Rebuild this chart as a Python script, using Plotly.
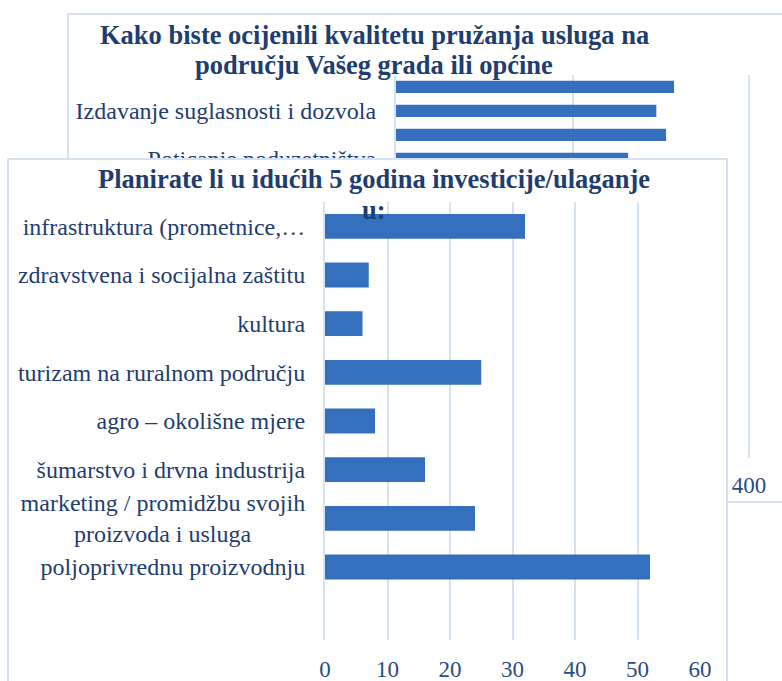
import plotly.graph_objects as go

W, H = 782, 681

# pozadinski grafikon (djelomično skriven)
bg_title = ["Kako biste ocijenili kvalitetu pružanja usluga na",
            "području Vašeg grada ili općine"]
bg_categories = ["(bez oznake 1)", "Izdavanje suglasnosti i dozvola",
                 "(bez oznake 2)", "Poticanje poduzetništva"]
bg_labeled = ["Izdavanje suglasnosti i dozvola", "Poticanje poduzetništva"]
bg_values = [315, 295, 306, 263]
bg_ticks = [0, 200, 400]

# prednji grafikon
fg_title = ["Planirate li u idućih 5 godina investicije/ulaganje", "u:"]
fg_categories = [
    "infrastruktura (prometnice,…",
    "zdravstvena i socijalna zaštitu",
    "kultura",
    "turizam na ruralnom području",
    "agro – okolišne mjere",
    "šumarstvo i drvna industrija",
    "marketing / promidžbu svojih<br>proizvoda i usluga",
    "poljoprivrednu proizvodnju",
]
fg_values = [32, 7, 6, 25, 8, 16, 24, 52]
fg_ticks = [0, 10, 20, 30, 40, 50, 60]


def fx(p):
    return p / W


def fy(p):
    return 1 - p / H


BAR = "#3570BE"
GRID = "#D6E1F2"
TXT = "#1F3D6E"
FONT = "Liberation Serif"

# second line of the two-line label is centred in the reference
fg_ticktext = list(fg_categories)
fg_ticktext[6] = fg_categories[6] + "\u00a0" * 9

fig = go.Figure()

fig.add_trace(go.Bar(
    x=bg_values, y=bg_categories, orientation="h",
    marker=dict(color=BAR, line=dict(width=0)),
    xaxis="x", yaxis="y", hoverinfo="skip", showlegend=False,
))
# empty trace that owns the white "cover" subplot
fig.add_trace(go.Scatter(x=[], y=[], xaxis="x2", yaxis="y2", showlegend=False))
fig.add_trace(go.Bar(
    x=fg_values, y=fg_categories, orientation="h",
    marker=dict(color=BAR, line=dict(width=0)),
    xaxis="x3", yaxis="y3", hoverinfo="skip", showlegend=False,
))

fig.update_layout(
    template="none",
    width=W, height=H,
    margin=dict(l=0, r=0, t=0, b=0),
    paper_bgcolor="white", plot_bgcolor="white",
    bargap=0.49,
    font=dict(family=FONT, color=TXT, size=24),
    xaxis=dict(
        domain=[fx(396), 1], range=[0, (W - 396) / 0.8825],
        tickvals=bg_ticks, showgrid=True, gridcolor=GRID, gridwidth=2,
        zeroline=False, showline=False, ticks="",
        tickfont=dict(size=23, color="#2B4C80"), ticklabelstandoff=11,
        automargin=False, fixedrange=True,
    ),
    yaxis=dict(
        domain=[fy(458), fy(75)], type="category",
        categoryorder="array", categoryarray=bg_categories,
        range=[15.5, -0.5], tickvals=bg_labeled,
        showgrid=False, zeroline=False, showline=True, linecolor=GRID, linewidth=2,
        ticks="", ticklabelstandoff=13, automargin=False,
        tickfont=dict(size=24, color=TXT), anchor="x",
    ),
    xaxis2=dict(domain=[fx(8), fx(727)], range=[0, 1], visible=False,
                anchor="y2", automargin=False),
    yaxis2=dict(domain=[0, fy(159)], range=[0, 1], visible=False,
                anchor="x2", automargin=False),
    xaxis3=dict(
        domain=[fx(325), fx(700)], range=[0, 60], tickvals=fg_ticks,
        showgrid=True, gridcolor=GRID, gridwidth=2,
        zeroline=False, showline=False, ticks="", anchor="y3",
        tickfont=dict(size=23, color="#2B4C80"), ticklabelstandoff=13,
        automargin=False,
    ),
    yaxis3=dict(
        domain=[fy(640), fy(202)], type="category",
        categoryorder="array", categoryarray=fg_categories,
        range=[8.5, -0.5], tickvals=fg_categories, ticktext=fg_ticktext,
        showgrid=False, zeroline=False, showline=True, linecolor=GRID, linewidth=2,
        ticks="", ticklabelstandoff=13, anchor="x3",
        tickfont=dict(size=24, color=TXT), automargin=False,
    ),
)

# okviri
fig.add_shape(type="rect", xref="paper", yref="paper",
              x0=fx(68), x1=1.05, y0=fy(502), y1=fy(14),
              line=dict(color=GRID, width=2), layer="below")
fig.add_shape(type="rect", xref="paper", yref="paper",
              x0=fx(8), x1=fx(727), y0=-0.05, y1=fy(159),
              line=dict(color=GRID, width=2), layer="above")

# naslovi
for text, yp in zip(bg_title, [35.5, 65.5]):
    fig.add_annotation(text="<b>%s</b>" % text, xref="paper", yref="paper",
                       x=fx(374), y=fy(yp), xanchor="center", yanchor="middle",
                       showarrow=False, font=dict(size=26.5, color=TXT))
for text, yp in zip(fg_title, [179, 210]):
    fig.add_annotation(text="<b>%s</b>" % text, xref="paper", yref="paper",
                       x=fx(374), y=fy(yp), xanchor="center", yanchor="middle",
                       showarrow=False, font=dict(size=26.5, color=TXT))

fig.write_html("out.html", config={"displayModeBar": False},
               post_script="document.body.style.margin='0';")
